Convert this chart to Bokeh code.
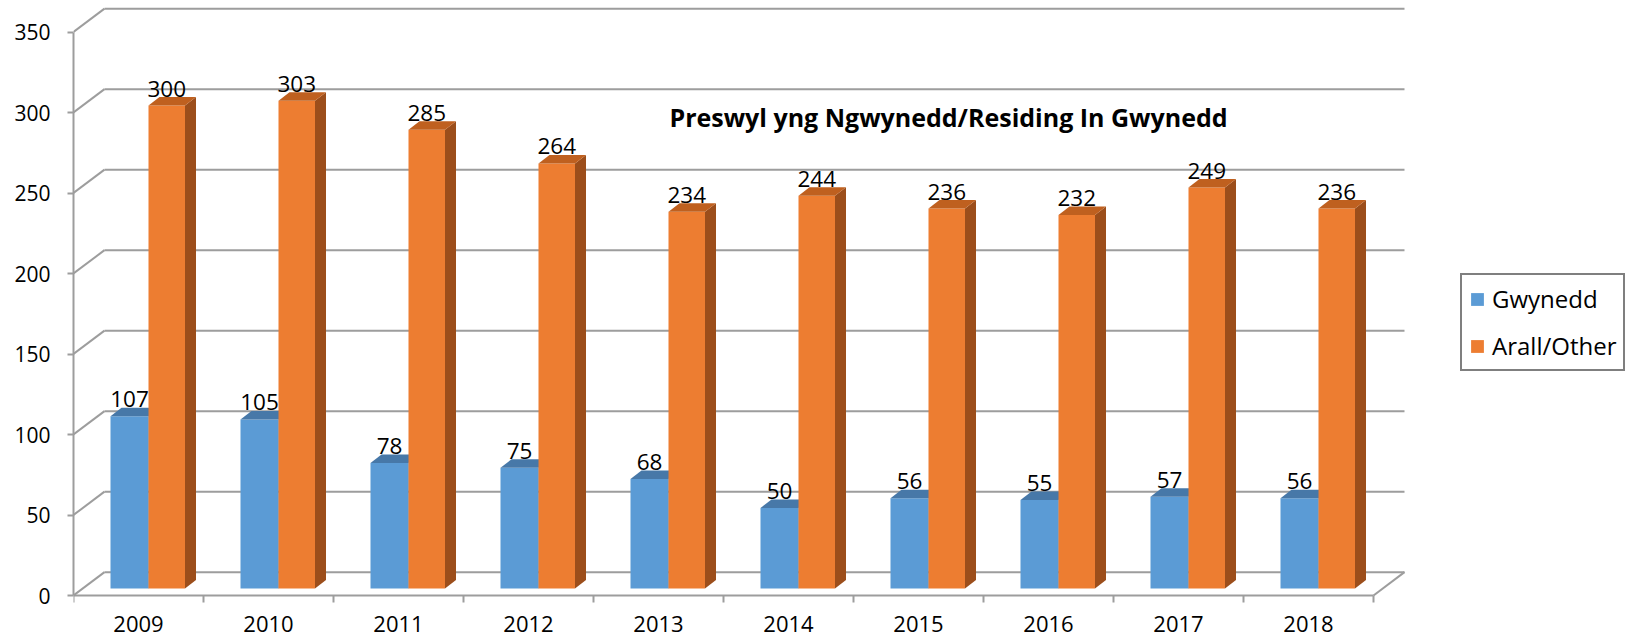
from bokeh.plotting import figure
from bokeh.models import Range1d, FixedTicker, Legend, LegendItem, Label, LabelSet, ColumnDataSource
from bokeh.embed import file_html
from bokeh.resources import INLINE
from bokeh.core.properties import value

# ---------------- data ----------------
years = ["2009", "2010", "2011", "2012", "2013", "2014", "2015", "2016", "2017", "2018"]
gwynedd = [107, 105, 78, 75, 68, 50, 56, 55, 57, 56]
other = [300, 303, 285, 264, 234, 244, 236, 232, 249, 236]
y_ticks = [0, 50, 100, 150, 200, 250, 300, 350]
series_names = ["Gwynedd", "Arall/Other"]
title_text = "Preswyl yng Ngwynedd/Residing In Gwynedd"

# ---------------- geometry (pixel -> data units) ----------------
PX_X = 130.0          # px per category
PX_Y = 1.61           # px per value unit
W, H = 1625, 642
FRAME_LEFT = 73
ZERO_PX = 595         # canvas y of value 0 (front plane)

WALL_DX = 31 / PX_X
WALL_DY = 14.5
BAR_BASE = 7 / PX_Y
BAR_DX = 11 / PX_X
BAR_DY = 8.5 / PX_Y
BLUE_L, MID, ORANGE_R = 37 / PX_X, 75 / PX_X, 111.5 / PX_X
LABEL_GAP = 17 / PX_Y
TICK_LEN = 7 / PX_Y

GRID = "#9d9d9d"
BLUE, BLUE_TOP, BLUE_SIDE = "#5B9BD5", "#4778A8", "#3E6B96"
ORANGE, ORANGE_TOP, ORANGE_SIDE = "#ED7D31", "#BF601F", "#9C4E1B"
FONT = "Open Sans"

x_end = (W - FRAME_LEFT) / PX_X
y_end = ZERO_PX / PX_Y
y_start = -(H - ZERO_PX) / PX_Y

p = figure(width=W, height=H, x_range=Range1d(0, x_end), y_range=Range1d(y_start, y_end),
           output_backend="svg", toolbar_location=None, x_axis_location=None,
           min_border_left=FRAME_LEFT, min_border_right=0, min_border_top=0, min_border_bottom=0)
p.outline_line_color = None
p.xgrid.visible = False
p.ygrid.visible = False
p.background_fill_color = "white"
p.border_fill_color = "white"

# ---------------- walls / gridlines ----------------
n = len(years)
gx0, gy0, gx1, gy1 = [], [], [], []
for t in y_ticks:
    gx0 += [0, WALL_DX]
    gy0 += [t, t + WALL_DY]
    gx1 += [WALL_DX, n + WALL_DX]
    gy1 += [t + WALL_DY, t + WALL_DY]
# floor right edge
gx0.append(n); gy0.append(0); gx1.append(n + WALL_DX); gy1.append(WALL_DY)
p.segment(gx0, gy0, gx1, gy1, line_color=GRID, line_width=2)

# floor front edge (x axis line) and category boundary ticks
p.segment([0], [0], [n], [0], line_color=GRID, line_width=2)
bx = list(range(n + 1))
p.segment(bx, [0] * len(bx), bx, [-TICK_LEN] * len(bx), line_color=GRID, line_width=2)
year_src = ColumnDataSource(dict(x=[i + 0.5 for i in range(n)], y=[-36 / PX_Y] * n, text=years))
p.add_layout(LabelSet(x="x", y="y", text="text", source=year_src,
                      text_font=value(FONT), text_font_size="22px", text_color="black",
                      text_align="center", text_baseline="alphabetic"))

# ---------------- 3D bars ----------------
def bar_faces(vals, left, right):
    x0 = [i + left for i in range(n)]
    x1 = [i + right for i in range(n)]
    bot = [BAR_BASE] * n
    top = [BAR_BASE + v for v in vals]
    tops_x = [[a, b, b + BAR_DX, a + BAR_DX] for a, b in zip(x0, x1)]
    tops_y = [[t, t, t + BAR_DY, t + BAR_DY] for t in top]
    side_x = [[b, b + BAR_DX, b + BAR_DX, b] for b in x1]
    side_y = [[BAR_BASE, BAR_BASE + BAR_DY, t + BAR_DY, t] for t in top]
    return x0, x1, bot, top, tops_x, tops_y, side_x, side_y

bx0, bx1, bbot, btop, btx, bty, bsx, bsy = bar_faces(gwynedd, BLUE_L, MID)
ox0, ox1, obot, otop, otx, oty, osx, osy = bar_faces(other, MID, ORANGE_R)

p.patches(bsx, bsy, fill_color=BLUE_SIDE, line_color=None)
blue_r = p.quad(left=bx0, right=bx1, bottom=bbot, top=btop, fill_color=BLUE, line_color=None)
p.patches(btx, bty, fill_color=BLUE_TOP, line_color=None)
p.patches(osx, osy, fill_color=ORANGE_SIDE, line_color=None)
orange_r = p.quad(left=ox0, right=ox1, bottom=obot, top=otop, fill_color=ORANGE, line_color=None)
p.patches(otx, oty, fill_color=ORANGE_TOP, line_color=None)

# value labels
p.text([(a + b) / 2 for a, b in zip(bx0, bx1)], [t + LABEL_GAP for t in btop],
       text=[str(v) for v in gwynedd], text_font=value(FONT), text_font_size="22.5px",
       text_color="black", text_align="center", text_baseline="alphabetic")
p.text([(a + b) / 2 for a, b in zip(ox0, ox1)], [t + LABEL_GAP for t in otop],
       text=[str(v) for v in other], text_font=value(FONT), text_font_size="22.5px",
       text_color="black", text_align="center", text_baseline="alphabetic")

# ---------------- y axis ----------------
ax = p.yaxis[0]
ax.ticker = FixedTicker(ticks=y_ticks, minor_ticks=[])
ax.bounds = (0, 350)
ax.axis_line_color = GRID
ax.axis_line_width = 2
ax.major_tick_line_color = GRID
ax.major_tick_line_width = 2
ax.major_tick_in = 0
ax.major_tick_out = 6
ax.minor_tick_line_color = None
ax.major_label_text_font = FONT
ax.major_label_text_font_size = "21px"
ax.major_label_text_color = "black"
ax.major_label_standoff = 17

# ---------------- title ----------------
p.add_layout(Label(x=(948 - FRAME_LEFT) / PX_X, y=(ZERO_PX - 116) / PX_Y, text=title_text,
                   text_font=FONT, text_font_style="bold", text_font_size="25px",
                   text_color="black", text_align="center", text_baseline="alphabetic"))

# ---------------- legend ----------------
legend = Legend(items=[LegendItem(label=series_names[0], renderers=[blue_r]),
                       LegendItem(label=series_names[1], renderers=[orange_r])],
                location=(1460 - FRAME_LEFT, H - 371), orientation="vertical",
                border_line_color="black", border_line_width=2,
                label_text_font=FONT, label_text_font_size="24px", label_text_color="black",
                glyph_width=16, glyph_height=16, label_height=30, label_standoff=7,
                padding=7, spacing=14, margin=0, background_fill_color="white")
p.add_layout(legend, "center")

open("out.html", "w").write(file_html(p, INLINE))
